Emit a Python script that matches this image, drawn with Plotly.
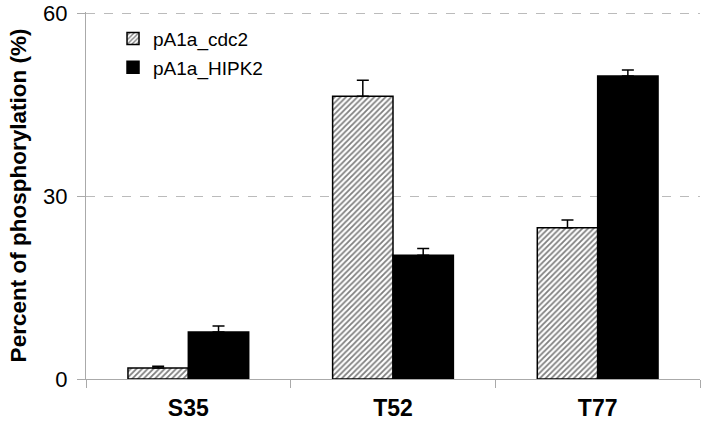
import plotly.graph_objects as go

categories = ["S35", "T52", "T77"]
cdc2_values = [1.8, 46.4, 24.8]
cdc2_errors = [0.3, 2.6, 1.3]
hipk2_values = [7.7, 20.3, 49.7]
hipk2_errors = [1.0, 1.1, 1.0]
y_ticks = [0, 30, 60]

FONT = "Liberation Sans, Arial, Helvetica, sans-serif"

fig = go.Figure()
fig.add_trace(go.Bar(
    x=categories, y=cdc2_values, name="pA1a_cdc2",
    legendgroup="a",
    marker=dict(color="white", line=dict(color="black", width=1.5),
                pattern=dict(shape="/", fgcolor="#000000", bgcolor="white",
                             size=4, solidity=0.45)),
    error_y=dict(type="data", array=cdc2_errors, arrayminus=[0, 0, 0],
                 symmetric=False, color="black", thickness=1.5, width=6),
))
fig.add_trace(go.Bar(
    x=categories, y=hipk2_values, name="pA1a_HIPK2",
    legendgroup="b",
    marker=dict(color="black", line=dict(color="black", width=1.5)),
    error_y=dict(type="data", array=hipk2_errors, arrayminus=[0, 0, 0],
                 symmetric=False, color="black", thickness=1.5, width=6),
))

fig.update_layout(
    width=704, height=431,
    margin=dict(l=86, r=4, t=12, b=52),
    paper_bgcolor="white", plot_bgcolor="white",
    barmode="group", bargap=0.41, bargroupgap=0,
    font=dict(family=FONT, color="black"),
    showlegend=True,
    legend=dict(x=0.044, y=0.979, xanchor="left", yanchor="top",
                font=dict(size=19, family=FONT), bgcolor="rgba(0,0,0,0)",
                traceorder="grouped", tracegroupgap=1,
                itemwidth=30),
    xaxis=dict(
        automargin=False,
        tickfont=dict(size=23, family=FONT, weight="bold"),
        showline=True, linecolor="#aaaaaa", linewidth=1,
        ticks="outside", tickson="boundaries", ticklen=8, tickcolor="#aaaaaa",
        ticklabelstandoff=8,
        showgrid=False,
    ),
    yaxis=dict(
        automargin=False,
        range=[0, 60.2], tickvals=y_ticks,
        tickfont=dict(size=22, family=FONT),
        showline=True, linecolor="#aaaaaa", linewidth=1,
        ticks="outside", ticklen=8, tickcolor="#aaaaaa",
        ticklabelstandoff=5,
        showgrid=True, gridcolor="#bbbbbb", griddash="dash", gridwidth=1,
        zeroline=False,
        title=dict(text="Percent of phosphorylation (%)",
                   font=dict(size=22.5, family=FONT, weight="bold"), standoff=10),
    ),
)

fig.write_html("out.html",
               config={"displayModeBar": False},
               post_script="document.body.style.margin='0';document.body.style.padding='0';")
